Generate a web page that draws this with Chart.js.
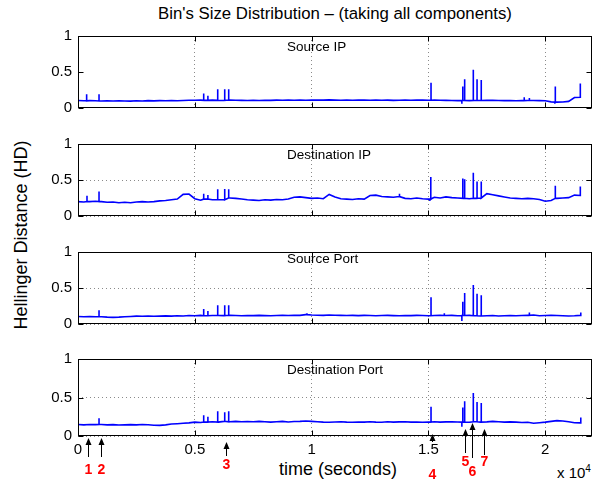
<!DOCTYPE html>
<html lang="en">
<head>
  <meta charset="UTF-8" />
  <title>Bin's Size Distribution</title>
  <script src="https://cdn.jsdelivr.net/npm/chart.js"></script>
  <style>
    body { margin: 0; background: #fff; font-family: "Liberation Sans", Arial, sans-serif; }
    #fig { position: relative; width: 613px; height: 490px; overflow: hidden; }
    canvas { position: absolute; left: 0; }
    .txt { position: absolute; color: #000; white-space: nowrap; line-height: 1; }
  </style>
</head>
<body>
<div id="fig">
  <div class="txt" id="title" style="left:78px;width:514px;top:6px;text-align:center;font-size:16.8px;">Bin's Size Distribution – (taking all components)</div>
  <div class="txt" id="ylab" style="left:21px;top:235px;font-size:18px;transform:translate(-50%,-50%) rotate(-90deg);">Hellinger Distance (HD)</div>
  <div class="txt" id="xlab" style="left:338px;top:469px;font-size:18px;transform:translate(-50%,-50%);">time (seconds)</div>
  <div class="txt" id="xexp" style="left:557px;top:464px;font-size:15px;">x 10<sup style="font-size:10px;vertical-align:6px;">4</sup></div>
</div>

<script>
  // sample spacing of the base series (seconds)
  const step = 250;

  const panelNames = ["Source IP", "Destination IP", "Source Port", "Destination Port"];

  const xTickValues = [0, 5000, 10000, 15000, 20000];
  const xTickLabels = ["0", "0.5", "1", "1.5", "2"];
  const yTickValues = [0, 0.5, 1];
  const yTickLabels = ["0", "0.5", "1"];

  // base level, one value every 250 s
  const srcIP = [
    0.105, 0.1, 0.102, 0.1, 0.098, 0.1, 0.097, 0.1, 0.098, 0.096,
    0.1, 0.098, 0.102, 0.099, 0.103, 0.1, 0.104, 0.101, 0.105, 0.107,
    0.108, 0.11, 0.106, 0.11, 0.107, 0.105, 0.11, 0.108, 0.106, 0.104,
    0.107, 0.105, 0.108, 0.106, 0.11, 0.107, 0.109, 0.108, 0.11, 0.107,
    0.11, 0.112, 0.109, 0.113, 0.11, 0.108, 0.11, 0.107, 0.109, 0.111,
    0.108, 0.11, 0.107, 0.109, 0.106, 0.108, 0.11, 0.107, 0.109, 0.11,
    0.108, 0.11, 0.108, 0.106, 0.105, 0.103, 0.104, 0.102, 0.105, 0.104,
    0.107, 0.106, 0.104, 0.103, 0.102, 0.101, 0.103, 0.105, 0.104, 0.102,
    0.1, 0.085, 0.082, 0.084, 0.092, 0.145, 0.15
  ];
  const dstIP = [
    0.2, 0.195, 0.2, 0.205, 0.2, 0.19, 0.195, 0.185, 0.19, 0.185,
    0.195, 0.2, 0.195, 0.2, 0.21, 0.215, 0.225, 0.235, 0.3, 0.305,
    0.24, 0.22, 0.235, 0.225, 0.23, 0.225, 0.25, 0.245, 0.235, 0.225,
    0.22, 0.215, 0.225, 0.22, 0.23, 0.225, 0.235, 0.26, 0.265, 0.255,
    0.245, 0.25, 0.24, 0.3, 0.265, 0.24, 0.235, 0.23, 0.24, 0.235,
    0.285, 0.29, 0.27, 0.265, 0.26, 0.27, 0.245, 0.24, 0.25, 0.24,
    0.235, 0.26, 0.25, 0.265, 0.255, 0.25, 0.245, 0.24, 0.245, 0.25,
    0.31, 0.295, 0.28, 0.265, 0.25, 0.245, 0.24, 0.245, 0.24, 0.23,
    0.205, 0.215, 0.245, 0.25, 0.255, 0.29, 0.285
  ];
  const srcPort = [
    0.105, 0.1, 0.105, 0.1, 0.1, 0.095, 0.092, 0.095, 0.1, 0.105,
    0.11, 0.107, 0.112, 0.108, 0.11, 0.113, 0.11, 0.115, 0.112, 0.118,
    0.115, 0.12, 0.115, 0.118, 0.12, 0.117, 0.12, 0.118, 0.115, 0.118,
    0.116, 0.12, 0.117, 0.115, 0.118, 0.12, 0.118, 0.122, 0.12, 0.13,
    0.125, 0.122, 0.12, 0.125, 0.122, 0.12, 0.118, 0.12, 0.117, 0.12,
    0.118, 0.115, 0.118, 0.12, 0.117, 0.115, 0.118, 0.116, 0.12, 0.118,
    0.115, 0.118, 0.12, 0.118, 0.12, 0.115, 0.118, 0.12, 0.115, 0.112,
    0.115, 0.118, 0.112, 0.115, 0.117, 0.115, 0.118, 0.12, 0.125, 0.115,
    0.118, 0.12, 0.118, 0.115, 0.112, 0.115, 0.12
  ];
  const dstPort = [
    0.15, 0.145, 0.15, 0.148, 0.15, 0.145, 0.148, 0.142, 0.145, 0.148,
    0.145, 0.15, 0.147, 0.14, 0.138, 0.145, 0.155, 0.16, 0.165, 0.17,
    0.18, 0.175, 0.18, 0.185, 0.18, 0.19, 0.185, 0.19, 0.185, 0.188,
    0.185, 0.19, 0.185, 0.18, 0.185, 0.19, 0.182, 0.188, 0.19, 0.195,
    0.19, 0.185, 0.18, 0.178, 0.182, 0.185, 0.18, 0.178, 0.182, 0.18,
    0.185, 0.18, 0.178, 0.185, 0.18, 0.183, 0.185, 0.18, 0.182, 0.178,
    0.18, 0.185, 0.18, 0.183, 0.185, 0.182, 0.18, 0.178, 0.185, 0.18,
    0.183, 0.19, 0.185, 0.18, 0.183, 0.18, 0.175, 0.178, 0.165, 0.172,
    0.18, 0.19, 0.2, 0.195, 0.185, 0.172, 0.17
  ];

  // narrow peaks / dips: [time, value]
  const srcIPSpikes = [[370, 0.19], [900, 0.19], [5380, 0.2], [5560, 0.17], [5980, 0.26], [6280, 0.26], [6450, 0.26],
    [15110, 0.35], [16430, 0.06], [16470, 0.30], [16550, 0.40], [16920, 0.53], [17080, 0.40], [17260, 0.39],
    [19100, 0.15], [19320, 0.14], [20410, 0.06], [20430, 0.30], [21500, 0.34]];
  const dstIPSpikes = [[385, 0.28], [900, 0.34], [5380, 0.31], [5560, 0.29], [5980, 0.37], [6280, 0.375], [6450, 0.37],
    [13760, 0.31], [15060, 0.21], [15100, 0.54], [16470, 0.52], [16550, 0.51], [16920, 0.6], [17080, 0.48], [17260, 0.48],
    [20430, 0.42], [21500, 0.41]];
  const srcPortSpikes = [[900, 0.19], [5380, 0.21], [5560, 0.18], [5980, 0.26], [6280, 0.26], [6450, 0.26], [9800, 0.15],
    [15110, 0.37], [15680, 0.15], [16430, 0.04], [16470, 0.31], [16550, 0.43], [16920, 0.54], [17080, 0.42], [17260, 0.40],
    [19320, 0.16], [21520, 0.16]];
  const dstPortSpikes = [[900, 0.23], [5380, 0.27], [5560, 0.25], [5980, 0.32], [6280, 0.31], [6450, 0.32],
    [15110, 0.38], [16430, 0.12], [16470, 0.37], [16550, 0.45], [16920, 0.56], [17080, 0.44], [17260, 0.43], [21520, 0.24]];

  // event markers under the last panel
  const arrowTimes = [440, 983, 6353, 15171, 16581, 16880, 17380];
  const arrowLabels = ["1", "2", "3", "4", "5", "6", "7"];

  // layout (pixels)
  const panelTops = [31, 139, 247, 354];
  const panelH = 82;
  const nameOffsets = [16, 16, 12, 16];
  // [head, tail, label] offsets below the plot bottom
  const arrowLayout = [[2, 21, 34], [2, 21, 34], [6, 20, 29], [-2, 6, 39], [-7, 17, 26], [-13, 22, 36], [-7, 19, 26]];

  function buildSeries(base, spikes) {
    const pts = base.map((v, i) => ({ x: i * step, y: v }));
    spikes.forEach(([t, h]) => {
      const foot = base[Math.min(base.length - 1, Math.round(t / step))];
      pts.push({ x: t, y: foot }, { x: t, y: h }, { x: t, y: foot });
    });
    pts.sort((a, b) => a.x - b.x);
    return pts;
  }

  const frame = {
    id: "frame",
    afterDraw(chart) {
      const { ctx, chartArea: a, scales: { x, y } } = chart;
      const l = Math.round(a.left) + 0.5, r = Math.round(a.right) - 0.5;
      const t = Math.round(a.top) + 0.5, b = Math.round(a.bottom) - 0.5;
      ctx.save();
      ctx.strokeStyle = "#000";
      ctx.lineWidth = 1;
      ctx.strokeRect(l, t, r - l, b - t);
      ctx.beginPath();
      xTickValues.forEach(v => {
        const px = Math.round(x.getPixelForValue(v)) + 0.5;
        ctx.moveTo(px, b); ctx.lineTo(px, b - 5);
        ctx.moveTo(px, t); ctx.lineTo(px, t + 5);
      });
      yTickValues.forEach(v => {
        const py = Math.round(y.getPixelForValue(v)) + 0.5;
        ctx.moveTo(l, py); ctx.lineTo(l + 5, py);
        ctx.moveTo(r, py); ctx.lineTo(r - 5, py);
      });
      ctx.stroke();
      ctx.restore();
    }
  };

  const arrows = {
    id: "arrows",
    afterDraw(chart) {
      const { ctx, chartArea: a, scales: { x } } = chart;
      ctx.save();
      arrowTimes.forEach((tm, i) => {
        const px = Math.round(x.getPixelForValue(tm)) + 0.5;
        const [h, tl, lb] = arrowLayout[i];
        const hy = a.bottom + h, ty = a.bottom + tl;
        ctx.strokeStyle = "#000";
        ctx.lineWidth = 1;
        ctx.beginPath();
        ctx.moveTo(px, hy + 5); ctx.lineTo(px, ty);
        ctx.stroke();
        ctx.fillStyle = "#000";
        ctx.beginPath();
        ctx.moveTo(px, hy); ctx.lineTo(px - 3, hy + 7); ctx.lineTo(px + 3, hy + 7);
        ctx.closePath();
        ctx.fill();
        ctx.fillStyle = "#ff0000";
        ctx.font = "bold 14px 'Liberation Sans', Arial, sans-serif";
        ctx.textAlign = "center";
        ctx.textBaseline = "middle";
        ctx.fillText(arrowLabels[i], px, a.bottom + lb);
      });
      ctx.restore();
    }
  };

  const series = [
    buildSeries(srcIP, srcIPSpikes),
    buildSeries(dstIP, dstIPSpikes),
    buildSeries(srcPort, srcPortSpikes),
    buildSeries(dstPort, dstPortSpikes)
  ];

  const fig = document.getElementById("fig");
  series.forEach((data, k) => {
    const isBottom = k === series.length - 1;
    const cv = document.createElement("canvas");
    const h = isBottom ? 490 - (panelTops[k] - 10) : panelH + 20;
    cv.width = 613; cv.height = h;
    cv.style.top = (panelTops[k] - 10) + "px";
    fig.appendChild(cv);

    const name = document.createElement("div");
    name.className = "txt";
    name.textContent = panelNames[k];
    name.style.cssText = "left:287px;font-size:13.5px;top:" + (panelTops[k] + nameOffsets[k] - 7) + "px;";
    fig.appendChild(name);

    new Chart(cv, {
      type: "line",
      data: {
        datasets: [{
          data: data,
          borderColor: "#0000ff",
          borderWidth: 1.6,
          pointRadius: 0,
          tension: 0,
          fill: false
        }]
      },
      options: {
        responsive: false,
        animation: false,
        devicePixelRatio: 1,
        layout: { padding: { top: 10, right: 21, left: 0, bottom: isBottom ? 0 : 10 } },
        plugins: { legend: { display: false }, tooltip: { enabled: false } },
        scales: {
          x: {
            type: "linear",
            min: 0,
            max: 22000,
            afterBuildTicks: s => { s.ticks = xTickValues.map(v => ({ value: v })); },
            afterFit: s => { s.height = isBottom ? h - 10 - panelH : 0; },
            grid: { color: "#8a8a8a", lineWidth: 1, drawTicks: false },
            border: { display: false, dash: [1, 3] },
            ticks: {
              display: isBottom,
              padding: 5,
              color: "#000",
              maxRotation: 0,
              font: { size: 15, family: "'Liberation Sans', Arial, sans-serif" },
              callback: (v, i) => xTickLabels[i]
            }
          },
          y: {
            min: 0,
            max: 1,
            afterBuildTicks: s => { s.ticks = yTickValues.map(v => ({ value: v })); },
            afterFit: s => { s.width = 78; },
            grid: { display: k !== 0, color: "#8a8a8a", lineWidth: 1, drawTicks: false },
            border: { display: false, dash: [1, 3] },
            ticks: {
              padding: 6,
              color: "#000",
              font: { size: 15, family: "'Liberation Sans', Arial, sans-serif" },
              callback: (v, i) => yTickLabels[i]
            }
          }
        }
      },
      plugins: isBottom ? [frame, arrows] : [frame]
    });
  });
</script>
</body>
</html>
